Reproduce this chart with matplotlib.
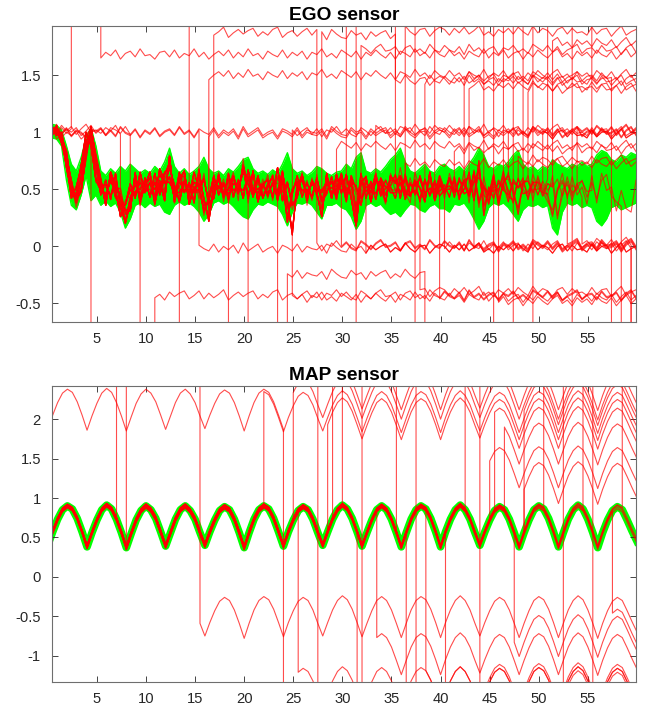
import numpy as np
import matplotlib
matplotlib.use("Agg")
import matplotlib.pyplot as plt

plt.rcParams['font.family'] = ['Liberation Sans', 'DejaVu Sans']

# ---------------- EGO sensor data (grid: 0.4, 0.9, ... 59.9) ----------------
ego_hi = [1.07, 1.06, 1.02, 0.88, 0.72, 0.66, 0.78, 0.95, 1.04, 0.88,
          0.66, 0.62, 0.68, 0.64, 0.70, 0.66, 0.72, 0.68, 0.64, 0.67,
          0.64, 0.70, 0.66, 0.74, 0.86, 0.70, 0.64, 0.68, 0.63, 0.66,
          0.70, 0.78, 0.68, 0.64, 0.66, 0.62, 0.68, 0.65, 0.70, 0.76,
          0.78, 0.68, 0.64, 0.66, 0.63, 0.67, 0.64, 0.72, 0.82, 0.68,
          0.64, 0.66, 0.62, 0.65, 0.70, 0.68, 0.64, 0.62, 0.65, 0.66,
          0.72, 0.68, 0.78, 0.82, 0.66, 0.64, 0.68, 0.65, 0.70, 0.76,
          0.80, 0.86, 0.74, 0.66, 0.64, 0.68, 0.72, 0.66, 0.64, 0.70,
          0.72, 0.68, 0.66, 0.70, 0.66, 0.72, 0.78, 0.86, 0.80, 0.70,
          0.68, 0.72, 0.70, 0.74, 0.80, 0.84, 0.72, 0.68, 0.70, 0.66,
          0.70, 0.68, 0.76, 0.72, 0.70, 0.68, 0.72, 0.70, 0.74, 0.70,
          0.72, 0.80, 0.84, 0.82, 0.76, 0.74, 0.80, 0.78, 0.82, 0.80]
ego_lo = [0.95, 0.94, 0.88, 0.58, 0.36, 0.32, 0.45, 0.62, 0.40, 0.45,
          0.36, 0.40, 0.35, 0.38, 0.30, 0.16, 0.24, 0.36, 0.38, 0.34,
          0.38, 0.35, 0.37, 0.30, 0.28, 0.36, 0.39, 0.36, 0.38, 0.35,
          0.30, 0.22, 0.28, 0.38, 0.40, 0.37, 0.39, 0.35, 0.30, 0.26,
          0.24, 0.32, 0.37, 0.36, 0.39, 0.37, 0.35, 0.28, 0.18, 0.30,
          0.38, 0.37, 0.39, 0.36, 0.30, 0.24, 0.36, 0.36, 0.38, 0.34,
          0.32, 0.26, 0.15, 0.22, 0.36, 0.38, 0.35, 0.37, 0.32, 0.28,
          0.30, 0.26, 0.32, 0.37, 0.36, 0.32, 0.30, 0.35, 0.37, 0.33,
          0.33, 0.30, 0.37, 0.36, 0.38, 0.32, 0.24, 0.15, 0.22, 0.34,
          0.38, 0.36, 0.38, 0.34, 0.28, 0.22, 0.32, 0.36, 0.35, 0.37,
          0.34, 0.36, 0.16, 0.10, 0.30, 0.38, 0.36, 0.38, 0.34, 0.36,
          0.34, 0.22, 0.18, 0.24, 0.34, 0.36, 0.32, 0.34, 0.36, 0.38]

ego_r1 = [1.02, 1.00, 0.96, 0.80, 0.55, 0.42, 0.60, 0.88, 0.98, 0.70,
          0.48, 0.56, 0.42, 0.60, 0.38, 0.20, 0.40, 0.55, 0.45, 0.58,
          0.44, 0.60, 0.48, 0.62, 0.70, 0.50, 0.42, 0.56, 0.46, 0.60,
          0.52, 0.30, 0.44, 0.58, 0.48, 0.54, 0.42, 0.58, 0.50, 0.66,
          0.56, 0.44, 0.58, 0.46, 0.52, 0.60, 0.44, 0.56, 0.24, 0.48,
          0.58, 0.46, 0.54, 0.42, 0.60, 0.36, 0.50, 0.56, 0.44, 0.58,
          0.48, 0.56, 0.30, 0.62, 0.46, 0.54, 0.42, 0.58, 0.48, 0.56,
          0.62, 0.44, 0.58, 0.46, 0.52, 0.40, 0.56, 0.48, 0.54, 0.44,
          0.52, 0.46, 0.58, 0.42, 0.54, 0.62, 0.40, 0.70, 0.30, 0.52,
          0.46, 0.56, 0.50, 0.42, 0.58, 0.48, 0.60, 0.44, 0.52, 0.46,
          0.54, 0.48, 0.60, 0.22, 0.46, 0.56, 0.44, 0.52, 0.58, 0.46,
          0.52, 0.44, 0.56, 0.60, 0.48, 0.38, 0.30, 0.44, 0.36, 0.50]
ego_r2 = [0.98, 1.03, 0.92, 0.70, 0.45, 0.50, 0.70, 0.95, 0.90, 0.58,
          0.52, 0.44, 0.58, 0.46, 0.30, 0.36, 0.52, 0.44, 0.60, 0.48,
          0.56, 0.46, 0.66, 0.54, 0.58, 0.44, 0.60, 0.48, 0.54, 0.42,
          0.64, 0.40, 0.26, 0.50, 0.56, 0.44, 0.60, 0.46, 0.56, 0.44,
          0.62, 0.50, 0.46, 0.58, 0.44, 0.54, 0.50, 0.62, 0.40, 0.12,
          0.52, 0.60, 0.44, 0.56, 0.50, 0.44, 0.58, 0.46, 0.52, 0.60,
          0.42, 0.58, 0.50, 0.40, 0.56, 0.48, 0.60, 0.44, 0.54, 0.50,
          0.46, 0.58, 0.40, 0.56, 0.48, 0.60, 0.44, 0.54, 0.46, 0.58,
          0.48, 0.56, 0.44, 0.58, 0.50, 0.46, 0.56, 0.62, 0.48, 0.40,
          0.56, 0.48, 0.62, 0.46, 0.40, 0.56, 0.50, 0.46, 0.58, 0.52,
          0.44, 0.58, 0.50, 0.54, 0.46, 0.60, 0.48, 0.52, 0.44, 0.56,
          0.50, 0.58, 0.46, 0.52, 0.44, 0.56, 0.34, 0.28, 0.40, 0.46]
ego_r3 = [1.04, 0.97, 0.94, 0.76, 0.50, 0.38, 0.52, 0.80, 1.00, 0.80,
          0.56, 0.40, 0.62, 0.52, 0.46, 0.28, 0.34, 0.62, 0.40, 0.54,
          0.60, 0.40, 0.56, 0.44, 0.76, 0.40, 0.56, 0.62, 0.40, 0.52,
          0.44, 0.62, 0.36, 0.44, 0.62, 0.40, 0.54, 0.62, 0.44, 0.72,
          0.40, 0.62, 0.42, 0.54, 0.60, 0.40, 0.64, 0.44, 0.56, 0.34,
          0.46, 0.62, 0.40, 0.58, 0.44, 0.30, 0.62, 0.42, 0.58, 0.48,
          0.60, 0.44, 0.22, 0.52, 0.60, 0.42, 0.56, 0.50, 0.40, 0.62,
          0.52, 0.66, 0.46, 0.40, 0.60, 0.50, 0.42, 0.60, 0.40, 0.56,
          0.44, 0.60, 0.50, 0.46, 0.62, 0.40, 0.66, 0.36, 0.56, 0.44,
          0.60, 0.40, 0.54, 0.62, 0.46, 0.30, 0.56, 0.60, 0.42, 0.58,
          0.48, 0.42, 0.30, 0.46, 0.60, 0.44, 0.58, 0.46, 0.52, 0.40,
          0.58, 0.40, 0.62, 0.46, 0.56, 0.30, 0.44, 0.36, 0.30, 0.56]

ego_w1 = [0.02, -0.03, 0.04, -0.01, 0.03, -0.04, 0.01, 0.05, -0.02, 0.00,
          -0.03, 0.02, -0.01, 0.04, -0.04, 0.01, 0.03, -0.02, 0.05, -0.01,
          0.00, -0.04, 0.02, 0.03, -0.02, 0.04, -0.03, 0.01, -0.01, 0.05,
          -0.02, 0.02, -0.04, 0.00, 0.03, -0.01, 0.04, -0.03, 0.02, -0.02,
          0.05, -0.01, 0.01, -0.04, 0.03, 0.00, -0.02, 0.04, -0.03, 0.02,
          -0.01, 0.03, -0.04, 0.02, 0.00, 0.05, -0.02, 0.01, -0.03, 0.04,
          0.01, -0.02, 0.03, -0.04, 0.02, -0.01, 0.04, 0.00, -0.03, 0.02,
          -0.04, 0.03, 0.01, -0.02, 0.05, -0.01, 0.02, -0.03, 0.04, 0.00,
          -0.02, 0.04, -0.01, 0.02, -0.04, 0.03, 0.00, -0.02, 0.05, -0.03,
          0.02, -0.01, 0.04, -0.03, 0.01, 0.03, -0.04, 0.02, -0.02, 0.04,
          0.00, -0.03, 0.02, 0.05, -0.02, 0.01, -0.04, 0.03, -0.01, 0.02,
          -0.03, 0.04, 0.00, -0.02, 0.03, -0.04, 0.01, 0.05, -0.02, 0.02]
ego_w2 = [-0.02, 0.03, -0.01, 0.04, -0.03, 0.02, 0.00, -0.04, 0.03, 0.01,
          0.04, -0.02, 0.02, -0.03, 0.05, 0.00, -0.02, 0.03, -0.04, 0.02,
          -0.01, 0.04, -0.03, 0.01, 0.03, -0.02, 0.05, -0.01, 0.02, -0.04,
          0.03, 0.00, -0.02, 0.04, -0.03, 0.02, -0.01, 0.03, -0.04, 0.05,
          -0.02, 0.01, 0.04, -0.03, 0.00, 0.02, -0.04, 0.03, 0.01, -0.02,
          0.04, -0.03, 0.02, 0.00, -0.01, 0.03, -0.04, 0.05, 0.01, -0.02,
          -0.03, 0.04, 0.00, 0.02, -0.04, 0.03, -0.01, 0.02, 0.04, -0.03,
          0.01, -0.02, 0.05, 0.00, -0.03, 0.02, 0.03, -0.04, 0.01, 0.04,
          0.02, -0.03, 0.03, -0.01, 0.04, -0.02, 0.01, 0.05, -0.03, 0.00,
          -0.04, 0.02, -0.01, 0.03, -0.02, 0.04, 0.00, -0.03, 0.05, -0.01,
          0.03, 0.01, -0.04, 0.02, 0.04, -0.02, 0.03, -0.01, 0.00, -0.03,
          0.04, -0.02, 0.02, 0.03, -0.04, 0.01, 0.05, -0.03, 0.00, 0.02]
ego_w3 = [0.01, 0.04, -0.03, 0.02, -0.01, 0.03, -0.04, 0.00, 0.05, -0.02,
          0.02, -0.04, 0.03, 0.01, -0.02, 0.04, -0.03, 0.02, 0.00, -0.01,
          0.05, -0.02, 0.01, -0.04, 0.03, -0.01, 0.02, 0.04, -0.03, 0.00,
          0.04, -0.03, 0.02, -0.02, 0.01, 0.05, -0.04, 0.00, 0.03, -0.01,
          0.02, 0.04, -0.03, 0.01, -0.02, 0.03, 0.05, -0.04, 0.00, 0.02,
          -0.03, 0.01, 0.04, -0.02, 0.03, -0.04, 0.02, 0.00, 0.05, -0.01,
          0.03, -0.02, -0.04, 0.04, 0.01, -0.03, 0.02, 0.05, -0.01, 0.00,
          0.03, -0.04, 0.02, 0.04, -0.02, 0.01, -0.03, 0.05, 0.00, -0.02,
          0.04, 0.00, -0.02, 0.03, -0.04, 0.05, -0.01, 0.02, -0.03, 0.01,
          0.03, -0.04, 0.02, 0.00, 0.04, -0.02, 0.01, -0.03, 0.05, 0.02,
          -0.01, 0.04, -0.02, 0.03, -0.04, 0.00, 0.02, 0.05, -0.03, 0.01,
          0.02, -0.03, 0.04, -0.01, 0.00, 0.03, -0.04, 0.02, 0.05, -0.02]

# faulty EGO traces: (nominal array, wiggle array, [(time, level or None=nominal)])
ego_faults = [
    (1, 1, [(0, 1.00), (2.2, 2.6), (5.4, 1.68)]),
    (2, 2, [(0, 1.00)]),
    (1, 3, [(0, 0.98), (4.2, -1.6), (10.7, -0.43)]),
    (3, 1, [(0, 1.02), (7.2, None), (13.2, -1.6)]),
    (2, 3, [(0, 1.01), (8.2, None), (9.3, -1.6)]),
    (3, 2, [(0, None), (14.1, 2.6), (39.3, None)]),
    (1, 2, [(0, 0.99), (15.4, -0.02)]),
    (2, 1, [(0, None), (16.3, 1.50)]),
    (3, 3, [(0, None), (16.7, 1.87), (27.3, 0.00)]),
    (2, 2, [(0, None), (16.0, 0.98)]),
    (1, 1, [(0, None), (18.4, -1.6)]),
    (3, 3, [(0, None), (20.2, -1.6)]),
    (1, 2, [(0, None), (23.4, -1.6), (24.4, -0.25), (38.1, -1.6)]),
    (2, 1, [(0, None), (24.6, -0.45)]),
    (3, 3, [(0, None), (24.9, 1.00)]),
    (2, 2, [(0, None), (27.6, 1.85), (35.3, 1.45)]),
    (1, 1, [(0, None), (29.0, 0.88)]),
    (3, 3, [(0, None), (29.6, 0.01)]),
    (1, 2, [(0, None), (30.3, 2.6), (31.2, -1.6)]),
    (2, 1, [(0, None), (33.2, 1.02)]),
    (3, 3, [(0, None), (35.2, 2.6), (37.3, -1.6)]),
    (2, 2, [(0, None), (36.3, 1.88)]),
    (1, 1, [(0, None), (36.0, 0.72)]),
    (3, 3, [(0, None), (38.0, 1.45)]),
    (1, 2, [(0, None), (37.8, -0.40)]),
    (2, 1, [(0, None), (40.2, 0.00), (59.0, -1.6)]),
    (3, 3, [(0, None), (41.0, 0.85)]),
    (2, 2, [(0, None), (42.5, 1.40)]),
    (1, 1, [(0, None), (44.3, 2.6), (45.3, -1.6)]),
    (3, 3, [(0, None), (43.0, -0.01)]),
    (1, 2, [(0, None), (46.2, 2.6), (47.2, -1.6)]),
    (2, 1, [(0, None), (45.8, -0.48)]),
    (3, 3, [(0, None), (46.7, 0.99)]),
    (2, 2, [(0, None), (47.6, 0.75)]),
    (1, 1, [(0, None), (48.2, 2.6), (49.2, -1.6)]),
    (3, 3, [(0, None), (48.6, 1.38)]),
    (1, 2, [(0, None), (50.1, 0.98)]),
    (2, 1, [(0, None), (51.2, 1.78)]),
    (3, 3, [(0, None), (52.5, 0.02)]),
    (2, 2, [(0, None), (50.6, 2.6), (53.1, -1.6)]),
    (1, 1, [(0, None), (55.2, 2.6)]),
    (3, 3, [(0, None), (42.0, 1.48), (57.3, -1.6)]),
    (1, 2, [(0, None), (58.2, -1.6)]),
    (2, 1, [(0, None), (54.0, 0.03), (59.0, -1.6)]),
    (3, 2, [(0, None), (32.0, -0.02)]),
    (1, 3, [(0, None), (31.7, 1.72)]),
    (2, 3, [(0, None), (39.8, -0.44)]),
    (3, 1, [(0, None), (53.6, 1.01)]),
]

# ---------------- MAP sensor data (grid: 0, 0.5, ... 60) ----------------
map_nominal = [0.40, 0.57, 0.73, 0.85, 0.90, 0.86, 0.74, 0.57,
               0.38, 0.56, 0.72, 0.85, 0.91, 0.86, 0.73, 0.56,
               0.37, 0.55, 0.72, 0.84, 0.90, 0.85, 0.74, 0.57,
               0.39, 0.56, 0.73, 0.85, 0.90, 0.84, 0.73, 0.56,
               0.40, 0.57, 0.72, 0.84, 0.89, 0.85, 0.73, 0.56,
               0.37, 0.56, 0.73, 0.85, 0.90, 0.86, 0.74, 0.57,
               0.39, 0.57, 0.72, 0.84, 0.89, 0.85, 0.73, 0.56,
               0.40, 0.57, 0.73, 0.85, 0.91, 0.86, 0.74, 0.57,
               0.39, 0.56, 0.72, 0.85, 0.90, 0.85, 0.73, 0.56,
               0.38, 0.56, 0.73, 0.85, 0.90, 0.86, 0.74, 0.57,
               0.38, 0.57, 0.73, 0.85, 0.91, 0.85, 0.73, 0.56,
               0.40, 0.57, 0.72, 0.84, 0.89, 0.85, 0.73, 0.56,
               0.38, 0.56, 0.72, 0.85, 0.90, 0.86, 0.74, 0.57,
               0.38, 0.56, 0.73, 0.85, 0.91, 0.86, 0.73, 0.56,
               0.37, 0.56, 0.72, 0.84, 0.89, 0.85, 0.72, 0.58,
               0.45]

# faulty MAP traces: [(time, offset from nominal)]
map_faults = [
    [(0, -0.025)],
    [(0, 0.00)],
    [(0, 0.025)],
    [(0, 1.48), (24.0, -2.6)],
    [(0, 2.4), (15.1, -1.15)],
    [(0, 2.4), (6.9, 0.03), (29.0, 2.4), (31.9, -2.6)],
    [(0, 2.4), (7.9, -0.03), (21.9, 1.45)],
    [(0, 0.00), (25.0, 1.62)],
    [(0, 0.02), (25.3, -2.05)],
    [(0, 2.4), (27.1, -2.6)],
    [(0, -0.02), (28.2, 1.36)],
    [(0, 0.00), (30.0, 1.74)],
    [(0, 0.01), (31.1, -2.6)],
    [(0, 0.00), (33.1, -1.62)],
    [(0, -0.01), (35.2, 2.4), (37.1, -2.6)],
    [(0, 0.02), (36.2, -2.6)],
    [(0, 0.00), (38.1, -2.05)],
    [(0, 0.01), (40.1, -2.6)],
    [(0, -0.02), (42.2, 2.4), (44.0, -2.0)],
    [(0, 0.00), (44.6, 0.75)],
    [(0, 0.00), (45.5, 1.25)],
    [(0, 0.02), (46.2, 1.05)],
    [(0, -0.01), (47.1, -1.39)],
    [(0, 0.00), (48.1, 0.55)],
    [(0, 0.01), (48.5, 1.55)],
    [(0, 0.01), (50.2, 2.4), (52.4, -2.1)],
    [(0, -0.02), (54.2, 2.4), (55.1, -2.6)],
    [(0, 0.00), (57.3, -1.3)],
    [(0, 0.02), (58.2, 2.4)],
]


def fault_trace(xg, value, schedule):
    times = [s[0] for s in schedule]
    levels = [s[1] for s in schedule]
    xs, ys = [], []
    k_prev = None
    for i, x in enumerate(xg):
        k = max(j for j, t in enumerate(times) if t <= x)
        if k_prev is not None and k != k_prev:
            xs.append(x)
            ys.append(value(levels[k_prev], i))
        xs.append(x)
        ys.append(value(levels[k], i))
        k_prev = k
    return xs, ys


def style_axes(ax, title, ylim, yticks):
    ax.set_xlim(0.43, 59.9)
    ax.set_ylim(*ylim)
    ax.set_xticks([5, 10, 15, 20, 25, 30, 35, 40, 45, 50, 55])
    ax.set_yticks(yticks)
    ax.set_yticklabels([f'{t:g}' for t in yticks])
    ax.tick_params(direction='in', top=True, right=True, length=4, width=0.6,
                   color='#262626', labelcolor='#262626', labelsize=10.6)
    ax.tick_params(axis='x', pad=7.5)
    ax.tick_params(axis='y', pad=8)
    for s in ax.spines.values():
        s.set_color('#6e6e6e')
        s.set_linewidth(0.8)
    ax.set_title(title, fontsize=13.8, fontweight='bold', pad=4.5)


fig = plt.figure(figsize=(6.54, 7.17), dpi=100)
ax1 = fig.add_axes([0.0795, 0.5513, 0.893, 0.4124])
ax2 = fig.add_axes([0.0795, 0.0492, 0.893, 0.4124])

red = (1.0, 0.0, 0.0)
green = (0.0, 1.0, 0.0)

# EGO
xe = np.arange(120) * 0.5 + 0.4
ax1.fill_between(xe, ego_lo, ego_hi, color=green, lw=0, zorder=1)
ax1.plot(xe, ego_hi, color=green, lw=1.0, zorder=1)
ax1.plot(xe, ego_lo, color=green, lw=1.0, zorder=1)
noms = {1: np.array(ego_r1), 2: np.array(ego_r2), 3: np.array(ego_r3)}
wigs = {1: np.array(ego_w1), 2: np.array(ego_w2), 3: np.array(ego_w3)}
for b, w, sched in ego_faults:
    def val(level, i, b=b, w=w):
        if level is None:
            return noms[b][i] + wigs[w][i]
        return level + wigs[w][i]
    xs, ys = fault_trace(xe, val, sched)
    ax1.plot(xs, ys, color=red, lw=0.8, alpha=0.7, zorder=2)
style_axes(ax1, 'EGO sensor', (-0.66, 1.93), [-0.5, 0, 0.5, 1, 1.5])

# MAP
xm = np.arange(121) * 0.5
mnom = np.array(map_nominal)
ax2.plot(xm, mnom, color=green, lw=5.5, zorder=1)
for sched in map_faults:
    def valm(off, i):
        return mnom[i] + off
    xs, ys = fault_trace(xm, valm, sched)
    ax2.plot(xs, ys, color=red, lw=0.8, alpha=0.7, zorder=2)
style_axes(ax2, 'MAP sensor', (-1.33, 2.42), [-1, -0.5, 0, 0.5, 1, 1.5, 2])

fig.savefig('out.png', dpi=100)
